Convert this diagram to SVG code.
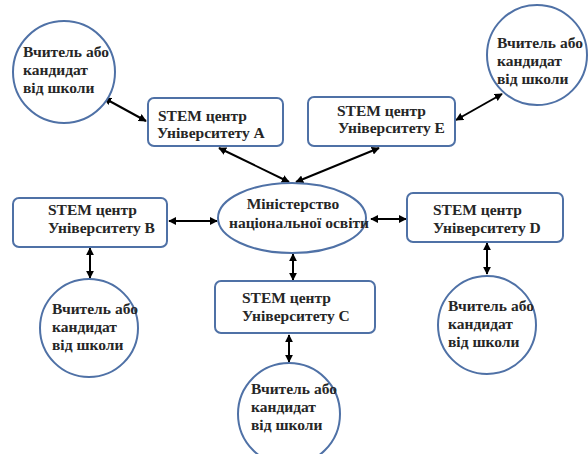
<svg xmlns="http://www.w3.org/2000/svg" width="588" height="454" viewBox="0 0 588 454">
<style>
.node{fill:#fff;stroke:#4f71a6;stroke-width:2}
.t{font-family:'Liberation Serif','Times New Roman',serif;font-weight:bold;font-size:15.5px;fill:#262626}
.c{stroke:#000;stroke-width:2;fill:none;marker-start:url(#a);marker-end:url(#a)}
</style>
<defs>
<marker id="a" viewBox="0 0 10 10" refX="9" refY="5" markerWidth="8" markerHeight="8" markerUnits="userSpaceOnUse" orient="auto-start-reverse">
<path d="M0,0L10,5L0,10z" fill="#000"/>
</marker>
</defs>
<rect width="588" height="454" fill="#fff"/>
<g id="connectors">
<line class="c" x1="104" y1="98" x2="146" y2="121"/>
<line class="c" x1="219" y1="148" x2="289" y2="182"/>
<line class="c" x1="296" y1="182" x2="379" y2="148"/>
<line class="c" x1="456" y1="120" x2="502" y2="94"/>
<line class="c" x1="169" y1="221" x2="217" y2="221"/>
<line class="c" x1="371" y1="219" x2="406" y2="219"/>
<line class="c" x1="293" y1="254" x2="293" y2="280"/>
<line class="c" x1="90" y1="248" x2="90" y2="278"/>
<line class="c" x1="487" y1="243" x2="487" y2="274"/>
<line class="c" x1="289" y1="335" x2="289" y2="362"/>
</g>
<g id="ministry">
<ellipse class="node" cx="292" cy="218" rx="74" ry="35"/>
<text class="t" x="293" y="209" text-anchor="middle">Міністерство</text>
<text class="t" x="299" y="228" text-anchor="middle">національної освіти</text>
</g>
<g id="stemA">
<rect class="node" x="148" y="98" width="135" height="48" rx="6"/>
<text class="t" x="158" y="121">STEM центр</text>
<text class="t" x="157" y="138">Університету А</text>
</g>
<g id="stemE">
<rect class="node" x="308" y="97" width="147" height="49" rx="6"/>
<text class="t" x="337" y="116">STEM центр</text>
<text class="t" x="338" y="133">Університету Е</text>
</g>
<g id="stemB">
<rect class="node" x="13" y="198" width="154" height="49" rx="6"/>
<text class="t" x="48" y="215">STEM центр</text>
<text class="t" x="48" y="233">Університету В</text>
</g>
<g id="stemD">
<rect class="node" x="407" y="193" width="156" height="49" rx="6"/>
<text class="t" x="433" y="215">STEM центр</text>
<text class="t" x="433" y="233">Університету D</text>
</g>
<g id="stemC">
<rect class="node" x="215" y="281" width="160" height="52" rx="6"/>
<text class="t" x="242" y="303">STEM центр</text>
<text class="t" x="242" y="321">Університету С</text>
</g>
<g id="teacherTL">
<circle class="node" cx="64" cy="72" r="51"/>
<text class="t" x="23" y="57">Вчитель або</text>
<text class="t" x="23" y="75">кандидат</text>
<text class="t" x="23" y="93">від школи</text>
</g>
<g id="teacherTR">
<circle class="node" cx="537" cy="55" r="50"/>
<text class="t" x="497" y="48">Вчитель або</text>
<text class="t" x="497" y="66">кандидат</text>
<text class="t" x="497" y="84">від школи</text>
</g>
<g id="teacherB">
<circle class="node" cx="89" cy="328" r="49"/>
<text class="t" x="52" y="314">Вчитель або</text>
<text class="t" x="52" y="332">кандидат</text>
<text class="t" x="52" y="350">від школи</text>
</g>
<g id="teacherD">
<circle class="node" cx="487" cy="325" r="49"/>
<text class="t" x="448" y="311">Вчитель або</text>
<text class="t" x="448" y="329">кандидат</text>
<text class="t" x="448" y="347">від школи</text>
</g>
<g id="teacherC">
<circle class="node" cx="289" cy="414" r="51"/>
<text class="t" x="251" y="394">Вчитель або</text>
<text class="t" x="251" y="412">кандидат</text>
<text class="t" x="251" y="430">від школи</text>
</g>
</svg>
